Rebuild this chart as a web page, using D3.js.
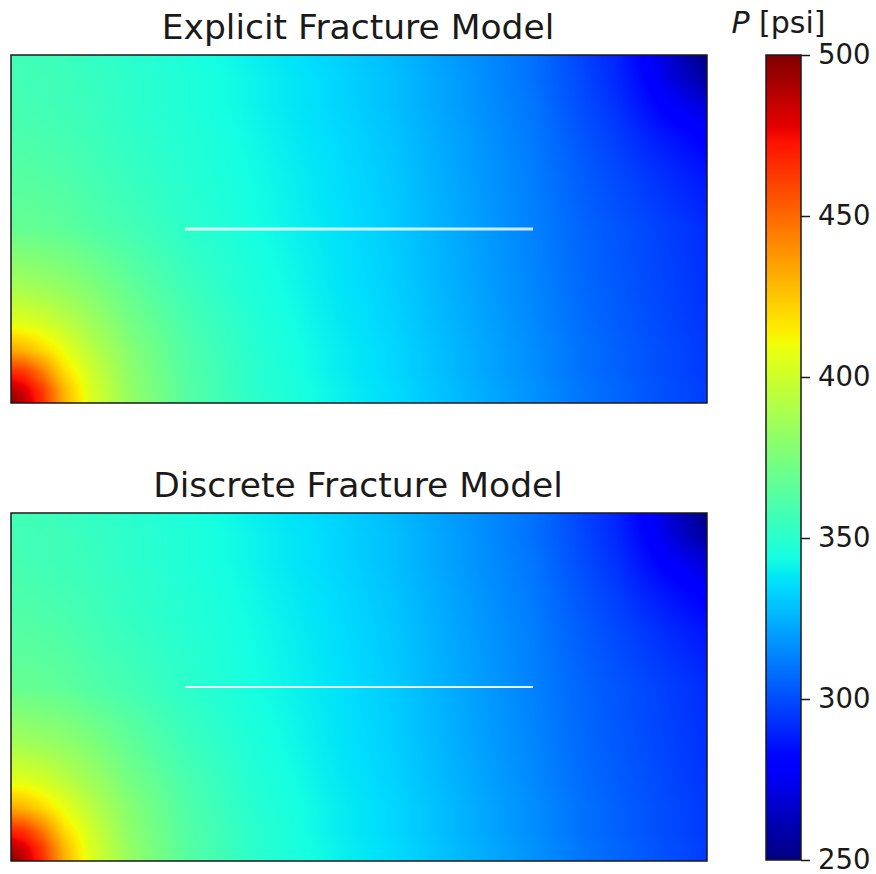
<!DOCTYPE html>
<html><head><meta charset="utf-8">
<script src="https://cdn.jsdelivr.net/npm/d3@7"></script>
<style>body{margin:0;background:#fff}svg{display:block}</style>
</head><body>
<svg id="chart" width="876" height="874"></svg>
<script>
// ---------- data ----------
const panelTitles = ["Explicit Fracture Model", "Discrete Fracture Model"];
// grid node positions in the reservoir (ft)
const xNodes = [0, 20, 45, 75, 115, 170, 250, 350, 450, 550, 650, 750, 820, 870, 910, 950, 1000];
const yNodes = [500, 465, 430, 385, 330, 250, 170, 115, 75, 45, 20, 0]; // rows listed top to bottom
// pressure (psi), rows top to bottom
const pressureEFM = [
  [357, 357, 356, 355, 353, 350, 346, 340, 334, 327, 318, 309, 298, 290, 280, 266, 250],
  [358, 357, 357, 356, 354, 351, 347, 341, 335, 328, 319, 309, 299, 291, 282, 270, 257],
  [359, 358, 357, 356, 355, 351, 347, 341, 335, 328, 319, 310, 300, 293, 285, 277, 269],
  [360, 360, 359, 358, 356, 352, 348, 342, 336, 329, 320, 311, 302, 296, 290, 285, 279],
  [363, 363, 362, 361, 358, 354, 349, 343, 337, 330, 321, 312, 304, 299, 295, 291, 286],
  [368, 368, 367, 366, 362, 358, 351, 344, 338, 331, 322, 313, 306, 302, 299, 296, 292],
  [387, 386, 384, 381, 376, 367, 356, 346, 339, 332, 323, 314, 307, 303, 300, 297, 293],
  [406, 405, 402, 395, 386, 373, 360, 348, 340, 333, 324, 315, 308, 304, 301, 298, 294],
  [434, 430, 421, 409, 394, 378, 362, 349, 341, 334, 325, 316, 309, 305, 302, 299, 295],
  [466, 462, 445, 420, 400, 380, 363, 350, 341, 334, 325, 316, 309, 305, 302, 299, 295],
  [487, 480, 462, 430, 403, 382, 364, 350, 342, 335, 326, 317, 310, 306, 303, 300, 296],
  [500, 486, 466, 433, 404, 383, 364, 351, 342, 335, 326, 317, 310, 306, 303, 300, 296]
];
const pressureDFM = [
  [357, 357, 356, 355, 353, 350, 346, 340, 334, 327, 318, 309, 298, 290, 280, 266, 250],
  [358, 357, 357, 356, 354, 351, 347, 341, 335, 328, 319, 309, 299, 291, 282, 270, 257],
  [359, 358, 357, 356, 355, 351, 347, 341, 335, 328, 319, 310, 300, 293, 285, 277, 269],
  [360, 360, 359, 358, 356, 352, 348, 342, 336, 329, 320, 311, 302, 296, 290, 285, 279],
  [363, 363, 362, 361, 358, 354, 349, 343, 337, 330, 321, 312, 304, 299, 295, 291, 286],
  [368, 368, 367, 366, 362, 358, 351, 344, 338, 331, 322, 313, 306, 302, 299, 296, 292],
  [387, 386, 384, 381, 376, 367, 356, 346, 339, 332, 323, 314, 307, 303, 300, 297, 293],
  [406, 405, 402, 395, 386, 373, 360, 348, 340, 333, 324, 315, 308, 304, 301, 298, 294],
  [434, 430, 421, 409, 394, 378, 362, 349, 341, 334, 325, 316, 309, 305, 302, 299, 295],
  [466, 462, 445, 420, 400, 380, 363, 350, 341, 334, 325, 316, 309, 305, 302, 299, 295],
  [487, 480, 462, 430, 403, 382, 364, 350, 342, 335, 326, 317, 310, 306, 303, 300, 296],
  [500, 486, 466, 433, 404, 383, 364, 351, 342, 335, 326, 317, 310, 306, 303, 300, 296]
];
const fractureX = [250, 750];   // ft
const fractureY = [250, 250];   // ft
const colorTicks = [250, 300, 350, 400, 450, 500];
const colorDomain = [250, 500];

// ---------- layout ----------
const font = "DejaVu Sans, sans-serif";
const svg = d3.select("#chart");
const xScale = d3.scaleLinear().domain([0, 1000]).range([11, 707]);
const panels = [
  {title: panelTitles[0], data: pressureEFM, top: 55, bottom: 403, fw: 3, fo: 0.8},
  {title: panelTitles[1], data: pressureDFM, top: 513, bottom: 861, fw: 2, fo: 0.9}
];

// jet colormap (matplotlib segment data)
const jetR = [[0,0],[0.35,0],[0.66,1],[0.89,1],[1,0.5]];
const jetG = [[0,0],[0.125,0],[0.375,1],[0.64,1],[0.91,0],[1,0]];
const jetB = [[0,0.5],[0.11,1],[0.34,1],[0.65,0],[1,0]];
function seg(s, t) {
  for (let i = 0; i < s.length - 1; i++) {
    if (t <= s[i+1][0]) { const f = (t - s[i][0]) / (s[i+1][0] - s[i][0]); return s[i][1] + f * (s[i+1][1] - s[i][1]); }
  }
  return s[s.length-1][1];
}
const norm = d3.scaleLinear().domain(colorDomain).range([0, 1]).clamp(true);
function jet(v) { const t = norm(v); return [seg(jetR,t)*255, seg(jetG,t)*255, seg(jetB,t)*255]; }

// bilinear field lookup
const yAsc = yNodes.slice().reverse();
function fieldValue(rows, x, y) {
  let i = Math.min(Math.max(d3.bisectRight(xNodes, x) - 1, 0), xNodes.length - 2);
  let j = Math.min(Math.max(d3.bisectRight(yAsc, y) - 1, 0), yAsc.length - 2);
  const fx = (x - xNodes[i]) / (xNodes[i+1] - xNodes[i]);
  const fy = (y - yAsc[j]) / (yAsc[j+1] - yAsc[j]);
  const a = rows[j][i], b = rows[j][i+1], c = rows[j+1][i], d = rows[j+1][i+1];
  return (a*(1-fx) + b*fx) * (1-fy) + (c*(1-fx) + d*fx) * fy;
}

panels.forEach(p => {
  const yScale = d3.scaleLinear().domain([0, 500]).range([p.bottom, p.top]);
  const x0 = xScale(0), x1 = xScale(1000);
  const w = Math.round(x1 - x0), h = Math.round(p.bottom - p.top);
  const canvas = document.createElement("canvas");
  canvas.width = w; canvas.height = h;
  const ctx = canvas.getContext("2d");
  const img = ctx.createImageData(w, h);
  const rows = p.data.slice().reverse();
  for (let py = 0; py < h; py++) {
    const yv = yScale.invert(p.top + py + 0.5);
    for (let px = 0; px < w; px++) {
      const xv = xScale.invert(x0 + px + 0.5);
      const c = jet(fieldValue(rows, xv, yv));
      const k = (py * w + px) * 4;
      img.data[k] = c[0]; img.data[k+1] = c[1]; img.data[k+2] = c[2]; img.data[k+3] = 255;
    }
  }
  ctx.putImageData(img, 0, 0);
  svg.append("image")
    .attr("x", x0).attr("y", p.top).attr("width", w).attr("height", h)
    .attr("preserveAspectRatio", "none")
    .attr("href", canvas.toDataURL());
  // fracture
  svg.append("line")
    .attr("x1", xScale(fractureX[0])).attr("x2", xScale(fractureX[1]))
    .attr("y1", yScale(fractureY[0])).attr("y2", yScale(fractureY[1]))
    .attr("stroke", "#fff").attr("stroke-opacity", p.fo).attr("stroke-width", p.fw);
  // frame
  svg.append("rect")
    .attr("x", x0).attr("y", p.top).attr("width", x1 - x0).attr("height", p.bottom - p.top)
    .attr("fill", "none").attr("stroke", "#1a1a1a").attr("stroke-width", 1.5);
  // title
  svg.append("text")
    .attr("x", (x0 + x1) / 2 - 1).attr("y", p.top - 16)
    .attr("text-anchor", "middle").attr("font-family", font).attr("font-size", 34.5)
    .attr("fill", "#1a1a1a").text(p.title);
});

// ---------- colorbar ----------
const cbX = 766, cbW = 35, cbTop = 55, cbBot = 860;
const cScale = d3.scaleLinear().domain(colorDomain).range([cbBot, cbTop]);
const defs = svg.append("defs");
const grad = defs.append("linearGradient").attr("id", "jetgrad")
  .attr("x1", 0).attr("y1", 1).attr("x2", 0).attr("y2", 0);
d3.range(0, 101).forEach(i => {
  const v = colorDomain[0] + (colorDomain[1] - colorDomain[0]) * i / 100;
  const c = jet(v);
  grad.append("stop").attr("offset", i + "%")
    .attr("stop-color", d3.rgb(c[0], c[1], c[2]).formatHex());
});
svg.append("rect").attr("x", cbX).attr("y", cbTop).attr("width", cbW).attr("height", cbBot - cbTop)
  .attr("fill", "url(#jetgrad)").attr("stroke", "#1a1a1a").attr("stroke-width", 1.5);
const cAxis = svg.append("g").attr("transform", `translate(${cbX + cbW},0)`)
  .call(d3.axisRight(cScale).tickValues(colorTicks).tickSize(9).tickPadding(8).tickFormat(d3.format("d")));
cAxis.select(".domain").remove();
cAxis.selectAll("line").attr("stroke", "#1a1a1a").attr("stroke-width", 1.5);
cAxis.selectAll("text").attr("font-family", font).attr("font-size", 27.5).attr("fill", "#1a1a1a");
const lab = svg.append("text").attr("x", cbX + cbW / 2 - 5).attr("y", 33)
  .attr("text-anchor", "middle").attr("font-family", font).attr("font-size", 30).attr("fill", "#1a1a1a");
lab.append("tspan").attr("font-style", "italic").text("P");
lab.append("tspan").text(" [psi]");
</script>
</body></html>
